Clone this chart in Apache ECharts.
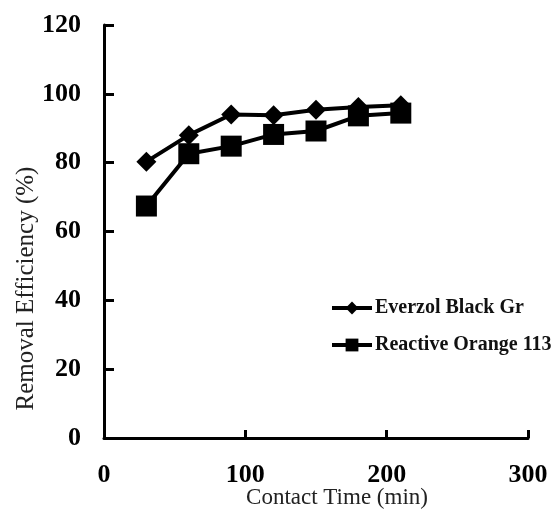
<!doctype html>
<html>
<head>
<meta charset="utf-8">
<script src="https://cdn.jsdelivr.net/npm/echarts@6/dist/echarts.min.js"></script>
<style>
    html, body { margin: 0; padding: 0; background: #fff; }
    #main { width: 553px; height: 509px; }
</style>
</head>
<body>
<div id="main"></div>
<script>
// contact time (min)
var times = [30, 60, 90, 120, 150, 180, 210];
// removal efficiency (%)
var everzol = [80.3, 88, 94, 93.8, 95.4, 96.2, 96.7];
var orange = [67.4, 82.6, 84.8, 88.2, 89.2, 93.6, 94.4];
var seriesNames = ['Everzol Black Gr', 'Reactive Orange 113'];

var myChart = echarts.init(document.getElementById('main'));

function pairs(xs, ys) {
    var out = [];
    for (var i = 0; i < xs.length; i++) out.push([xs[i], ys[i]]);
    return out;
}

var serif = '"Liberation Serif", "DejaVu Serif", serif';

var option = {
    backgroundColor: '#fff',
    animation: false,
    grid: { left: 104, right: 25, top: 25, bottom: 71, outerBoundsMode: 'none', containLabel: false },
    legend: {
        orient: 'vertical',
        left: 330,
        top: 298,
        padding: 0,
        itemWidth: 40,
        itemHeight: 16,
        itemGap: 17,
        lineStyle: { width: 4 },
        data: seriesNames,
        textStyle: { fontFamily: serif, fontWeight: 'bold', fontSize: 20, color: '#111', padding: [0, 0, 0, -2] }
    },
    xAxis: {
        type: 'value',
        min: 0, max: 300, interval: 100,
        name: 'Contact Time (min)',
        nameLocation: 'middle',
        nameGap: 48,
        nameMoveOverlap: false,
        nameTextStyle: { fontFamily: serif, fontSize: 23, color: '#222', padding: [0, 0, 0, 42] },
        axisLine: { lineStyle: { color: '#000', width: 3 } },
        axisTick: { inside: true, length: 8, lineStyle: { color: '#000', width: 3 } },
        axisLabel: { fontFamily: serif, fontWeight: 'bold', fontSize: 26, color: '#000', margin: 24 },
        splitLine: { show: false }
    },
    yAxis: {
        type: 'value',
        min: 0, max: 120, interval: 20,
        name: 'Removal Efficiency (%)',
        nameLocation: 'middle',
        nameGap: 65,
        nameMoveOverlap: false,
        nameTextStyle: { fontFamily: serif, fontSize: 25, color: '#222', padding: [0, 114, 0, 0] },
        axisLine: { show: true, lineStyle: { color: '#000', width: 3 } },
        axisTick: { show: true, inside: true, length: 10, lineStyle: { color: '#000', width: 3 } },
        axisLabel: { fontFamily: serif, fontWeight: 'bold', fontSize: 26, color: '#000', margin: 23 },
        splitLine: { show: false }
    },
    series: [
        {
            name: seriesNames[0],
            type: 'line',
            data: pairs(times, everzol),
            symbol: 'diamond',
            symbolSize: 20,
            itemStyle: { color: '#000' },
            lineStyle: { color: '#000', width: 4 },
            z: 3
        },
        {
            name: seriesNames[1],
            type: 'line',
            data: pairs(times, orange),
            symbol: 'rect',
            symbolSize: 21,
            itemStyle: { color: '#000' },
            lineStyle: { color: '#000', width: 4 },
            z: 2
        }
    ]
};

myChart.setOption(option);
</script>
</body>
</html>
